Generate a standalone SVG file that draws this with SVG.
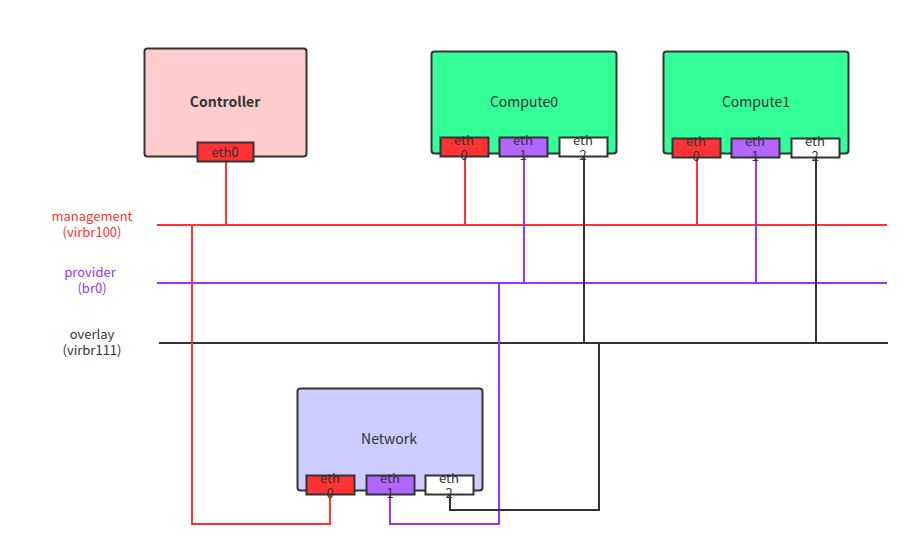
<svg xmlns="http://www.w3.org/2000/svg" width="921" height="557" viewBox="0 0 921 557">
<style>
text{font-family:"Microsoft YaHei","Noto Sans CJK SC","Noto Sans",sans-serif;font-size:13px;fill:#333;text-anchor:middle}
.title{font-size:14px}
.node{stroke:#333;stroke-width:2}
.port{stroke:#333;stroke-width:2}
.e0{fill:#FF3333}.e1{fill:#B266FF}.e2{fill:#FFFFFF}
.mg{stroke:#FF3333;stroke-width:2;fill:none}
.pv{stroke:#9933FF;stroke-width:2;fill:none}
.ov{stroke:#333333;stroke-width:2;fill:none}
</style>
<rect width="921" height="557" fill="#fff"/>
<g id="connectors">
<line class="mg" x1="157" y1="225" x2="887" y2="225"/>
<line class="pv" x1="157" y1="283" x2="887" y2="283"/>
<line class="ov" x1="159" y1="343" x2="888" y2="343"/>
<line class="mg" x1="226" y1="162" x2="226" y2="225"/>
<line class="mg" x1="465" y1="157" x2="465" y2="225"/>
<line class="pv" x1="524" y1="157" x2="524" y2="283"/>
<line class="ov" x1="584" y1="157" x2="584" y2="343"/>
<line class="mg" x1="697" y1="158" x2="697" y2="225"/>
<line class="pv" x1="756" y1="158" x2="756" y2="283"/>
<line class="ov" x1="816" y1="158" x2="816" y2="343"/>
<polyline class="mg" points="192,225 192,524 330,524 330,495"/>
<polyline class="pv" points="499,283 499,524 390,524 390,495"/>
<polyline class="ov" points="599,343 599,510 450,510 450,495"/>
</g>
<g id="label-management"><text x="92" y="221" style="fill:#FF3333"><tspan x="92">management</tspan><tspan x="92" dy="16">(virbr100)</tspan></text></g>
<g id="label-provider"><text x="90" y="277" style="fill:#9933FF"><tspan x="90">provider</tspan><tspan x="92" dy="16">(br0)</tspan></text></g>
<g id="label-overlay"><text x="92" y="339"><tspan x="92">overlay</tspan><tspan x="92" dy="16">(virbr111)</tspan></text></g>
<g id="controller">
<rect class="node" x="144.5" y="48.5" width="162" height="108" rx="3" fill="#FFCCCC"/>
<text class="title" x="225" y="107" style="font-weight:bold">Controller</text>
<rect class="port e0" x="197.5" y="142.5" width="56" height="19"/>
<text x="225" y="157">eth0</text>
</g>
<g id="compute0">
<rect class="node" x="431.5" y="51.5" width="185" height="102" rx="3" fill="#33FF99"/>
<text class="title" x="524" y="107">Compute0</text>
<rect class="port e0" x="440.5" y="137.5" width="48" height="19"/>
<text x="464" y="145"><tspan x="464">eth</tspan><tspan x="464" dy="15">0</tspan></text>
<rect class="port e1" x="499.5" y="137.5" width="48" height="19"/>
<text x="523" y="145"><tspan x="523">eth</tspan><tspan x="523" dy="15">1</tspan></text>
<rect class="port e2" x="559.5" y="137.5" width="48" height="19"/>
<text x="583" y="145"><tspan x="583">eth</tspan><tspan x="583" dy="15">2</tspan></text>
</g>
<g id="compute1">
<rect class="node" x="663.5" y="51.5" width="185" height="102" rx="3" fill="#33FF99"/>
<text class="title" x="756" y="107">Compute1</text>
<rect class="port e0" x="672.5" y="138.5" width="48" height="19"/>
<text x="696" y="146"><tspan x="696">eth</tspan><tspan x="696" dy="15">0</tspan></text>
<rect class="port e1" x="731.5" y="138.5" width="48" height="19"/>
<text x="755" y="146"><tspan x="755">eth</tspan><tspan x="755" dy="15">1</tspan></text>
<rect class="port e2" x="791.5" y="138.5" width="48" height="19"/>
<text x="815" y="146"><tspan x="815">eth</tspan><tspan x="815" dy="15">2</tspan></text>
</g>
<g id="network">
<rect class="node" x="297.5" y="388.5" width="185" height="102" rx="3" fill="#CCCCFF"/>
<text class="title" x="389" y="444">Network</text>
<rect class="port e0" x="306.5" y="475.5" width="48" height="19"/>
<text x="330" y="483"><tspan x="330">eth</tspan><tspan x="330" dy="15">0</tspan></text>
<rect class="port e1" x="366.5" y="475.5" width="48" height="19"/>
<text x="390" y="483"><tspan x="390">eth</tspan><tspan x="390" dy="15">1</tspan></text>
<rect class="port e2" x="425.5" y="475.5" width="48" height="19"/>
<text x="449" y="483"><tspan x="449">eth</tspan><tspan x="449" dy="15">2</tspan></text>
</g>
</svg>
